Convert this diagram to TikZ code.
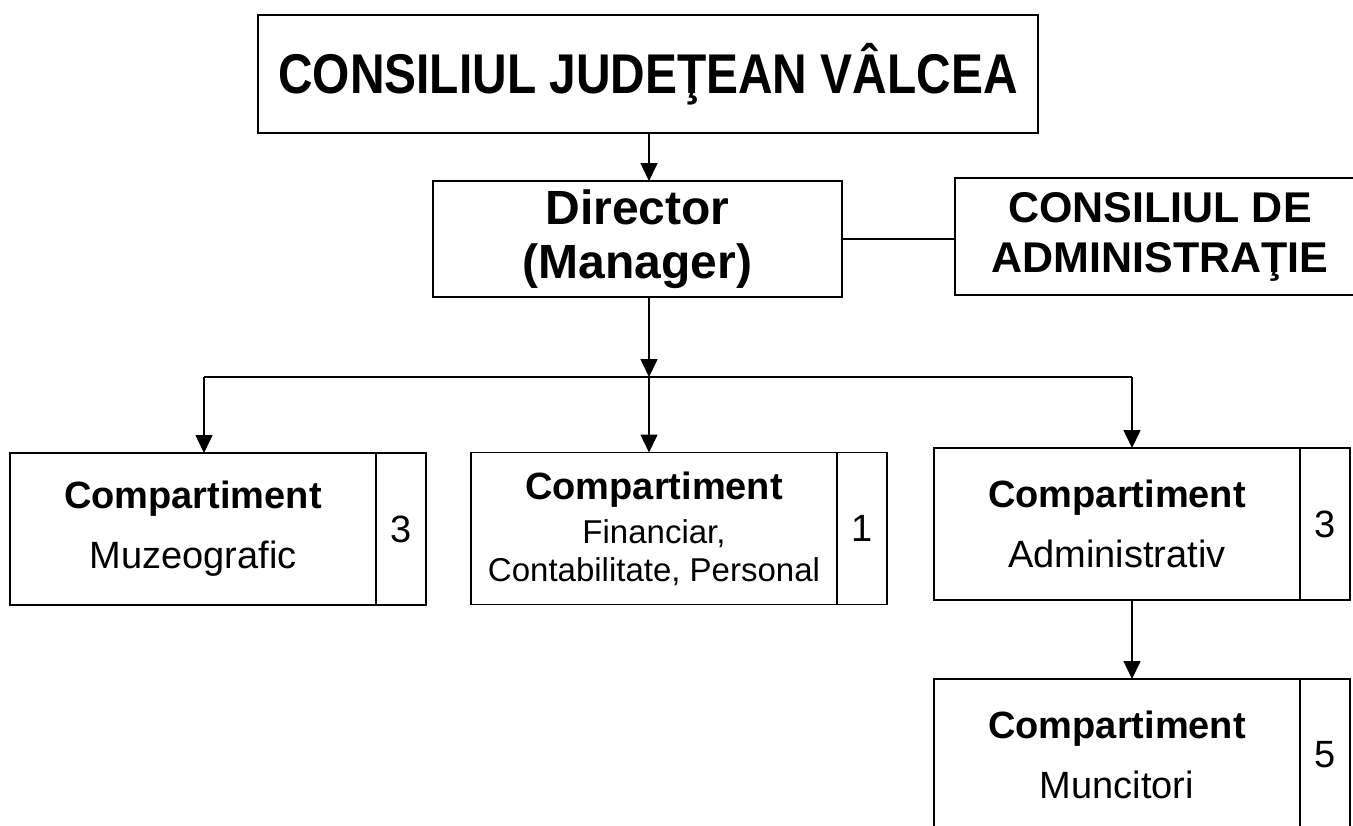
\documentclass[tikz,border=0pt]{standalone}
\usepackage{fontspec}
\setmainfont{Liberation Sans}
\newfontfamily\narrowfont[FakeStretch=0.855]{Liberation Sans}
\usetikzlibrary{positioning,arrows.meta}

\tikzset{
	box/.style={draw, line width=0.8pt, inner sep=0pt, outer sep=0pt, align=center},
	head/.style={box, font=\bfseries\fontsize{24}{27}\selectfont},
	dept/.style={box, minimum width=183pt, minimum height=76pt, font=\fontsize{19}{30}\selectfont},
	nr/.style={box, minimum width=25pt, minimum height=76pt, font=\fontsize{19}{22}\selectfont},
	arr/.style={-{Triangle[width=8.5pt,length=9pt]}, line width=0.8pt},
}

\begin{document}
\begin{tikzpicture}[x=0.5pt, y=-0.5pt]
		\clip (0,0) rectangle (1353,825);
		\fill[white] (0,0) rectangle (1353,825);

		\node[box, minimum width=390pt, minimum height=59pt, font=\narrowfont\bfseries\fontsize{28}{30}\selectfont] (cj) at (648,74) {CONSILIUL JUDEŢEAN VÂLCEA};
		\node[head, minimum width=204.5pt, minimum height=58pt] (dir) at (637.5,239) {Director\\(Manager)};
		\node[head, minimum width=205pt, minimum height=58.5pt, font=\bfseries\fontsize{21.5}{25}\selectfont] (ca) at (1160,236.5) {CONSILIUL DE\\ADMINISTRAŢIE};

		\node[dept] (muzeu) at (193,529) {\textbf{Compartiment}\\Muzeografic};
		\node[nr, right=0pt of muzeu] (muzeu-nr) {3};
		\node[dept, font=\fontsize{16.5}{19}\selectfont] (fin) at (654,528.5) {{\bfseries\fontsize{19}{19}\selectfont Compartiment}\\[3pt]Financiar,\\Contabilitate, Personal};
		\node[nr, right=0pt of fin] (fin-nr) {1};
		\node[dept] (adm) at (1117,524) {\textbf{Compartiment}\\Administrativ};
		\node[nr, right=0pt of adm] (adm-nr) {3};
		\node[dept] (munc) at (1117,755) {\textbf{Compartiment}\\Muncitori};
		\node[nr, right=0pt of munc] (munc-nr) {5};

		\coordinate (axis) at (649,377);
		\coordinate (b1) at (204,377);
		\coordinate (b3) at (1132,377);

		\draw[arr] (cj.south -| axis) -- (dir.north -| axis);
		\draw[line width=0.8pt] (dir.east) -- (dir.east -| ca.west);
		\draw[arr] (dir.south -| axis) -- (axis);
		\draw[line width=0.8pt] (b1) -- (b3);
		\draw[arr] (b1) -- (b1 |- muzeu.north);
		\draw[arr] (axis) -- (axis |- fin.north);
		\draw[arr] (b3) -- (b3 |- adm.north);
		\draw[arr] (b3 |- adm.south) -- (b3 |- munc.north);
	\end{tikzpicture}
\end{document}
